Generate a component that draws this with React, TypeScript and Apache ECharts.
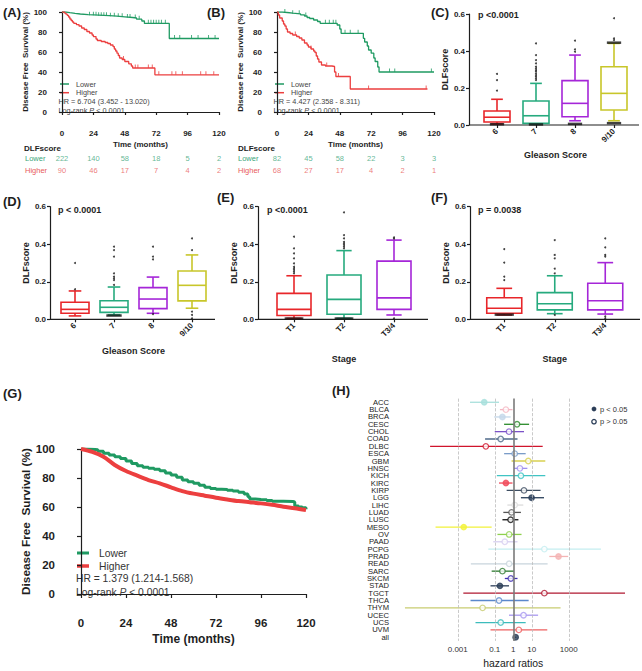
import React, { useEffect, useRef } from "react";
import * as echarts from "echarts";

const FONT = "'Liberation Sans', Arial, Helvetica, sans-serif";
const INK = "#1e1e1e";
const KM_GREEN = "#1f9a62";
const KM_RED = "#ec3f3f";
const RISK_GREEN = "#3aa57a";
const RISK_RED = "#e85a5a";
const BOX_COLORS = ["#e8262a", "#26aa7e", "#a526d8", "#c8c62a"];

// ---------- Kaplan-Meier data ----------
const timeTicks = [0, 24, 48, 72, 96, 120];

const kmALower = [[0,100],[3,99.3],[6,98.6],[10,98],[14,97.3],[20,96.8],[28,96.3],[36,95.8],[42,95.2],[48,94.5],[54,94],[57,92.8],[61,91],[63,88.6],[82,73.5],[120,73.5]];
const kmAHigher = [[0,100],[2,98.9],[3,97.8],[4,96.7],[5,95],[6,93],[7,91.5],[8,90],[9,88.7],[11,87.4],[13,86],[15,84],[17,82.5],[19,80.5],[21,79],[23,77],[24,75.4],[26,73],[27,71.5],[30,70.5],[33,69.5],[35,68.5],[37,67],[39,65.4],[40,63],[41,61],[42,58.8],[43,56.5],[44,54],[46,52.5],[48,50.5],[51,48.2],[53,46],[54,44],[71,37.2],[120,37.2]];
const censorALower = [21,24,26,28,30,32,34,37,40,43,46,50,52,56,59,66,68,70,72,74,76,79,86,90,99,104,112,117];
const censorAHigher = [47,56,58,66,69,74,84,87,92,106,110,116];
const riskALower = [222, 140, 58, 18, 5, 2];
const riskAHigher = [90, 46, 17, 7, 4, 2];

const kmBLower = [[0,100],[4,99.5],[8,98.8],[12,98.2],[18,97.2],[21,96],[23,94.5],[25,93.5],[28,92],[31,90.5],[33,88.7],[46,87],[48,83],[49,78.7],[65,78.7],[66,73.7],[67,70],[69,66],[70,62],[72,58.8],[74,54],[75,50.5],[77,45],[78,40],[120,40]];
const kmBHigher = [[0,100],[1,97],[2,94],[4,91],[5,88],[6,86],[7,83],[8,80],[10,78.5],[12,77],[15,75.5],[17,74],[19,72],[21,69],[23,67],[24,65],[26,63],[28,61],[29,59.5],[30,56],[31,53],[32,50],[34,47],[37,46],[42,45.5],[44,40],[45,35.5],[56,23],[115,23]];
const censorBLower = [6,12,17,22,37,40,43,45,52,56,62,86,90,118];
const censorBHigher = [14,26,38,47,70,114];
const riskBLower = [82, 45, 58, 22, 3, 3];
const riskBHigher = [68, 27, 17, 4, 2, 1];

const kmGLower = [[0,100],[3,99.8],[6,99.5],[9,98.5],[12,97],[15,95.8],[18,94.7],[21,93.4],[24,91.7],[27,90],[30,88.5],[33,87.5],[36,86.7],[39,86],[42,85],[45,83.5],[48,82],[51,80.5],[54,78.6],[57,77.5],[60,76.3],[63,75],[66,73.6],[69,72.7],[72,72.2],[75,72],[78,71.5],[81,71],[84,70.1],[87,69],[89,67],[90,65.5],[93,65.2],[96,65],[99,64.5],[102,64],[108,63.8],[113,63.5],[114,60.7],[116,60],[118,59.5],[120,58.5]];
const kmGHigher = [[0,100],[6,98],[12,94.7],[18,89],[24,84.8],[30,81.6],[36,78.6],[42,76.3],[48,73.6],[54,71],[60,69.2],[66,67.8],[72,66.4],[78,65.2],[84,64.1],[90,63.3],[96,62.5],[102,61.5],[108,60.2],[114,59.2],[120,57.9]];

// ---------- Box plot data: [lower whisker, Q1, median, Q3, upper whisker] ----------
const gleason = ["6", "7", "8", "9/10"];
const stage = ["T1", "T2", "T3/4"];

const boxC = [[0.005,0.016,0.042,0.076,0.139],[0.005,0.009,0.05,0.13,0.225],[0.023,0.045,0.117,0.24,0.378],[0.023,0.081,0.171,0.315,0.441]];
const outC = [[0,0.186],[0,0.243],[0,0.276],[1,0.243],[1,0.252],[1,0.261],[1,0.27],[1,0.279],[1,0.29],[1,0.297],[1,0.306],[1,0.315],[1,0.333],[1,0.351],[1,0.378],[1,0.441],[2,0.396],[2,0.409],[2,0.456],[3,0.459],[3,0.468],[3,0.577]];
const denseC = [[0,0.004],[1,0.003],[2,0.006],[3,0.01],[3,0.445]];

const boxD = [[0.018,0.032,0.053,0.091,0.151],[0.023,0.037,0.064,0.099,0.172],[0.032,0.057,0.108,0.169,0.225],[0.059,0.098,0.181,0.257,0.343]];
const outD = [[0,0.30],[0,0.16],[1,0.183],[1,0.209],[1,0.218],[1,0.227],[1,0.245],[1,0.334],[1,0.369],[1,0.387],[2,0.028],[2,0.319],[2,0.334],[2,0.387],[3,0.369],[3,0.431],[3,0.041],[3,0.023],[3,0.005]];
const denseD = [[1,0.02]];

const boxE = [[0.005,0.02,0.053,0.138,0.232],[0.005,0.027,0.106,0.236,0.366],[0.023,0.053,0.114,0.31,0.422]];
const outE = [[0,0.245],[0,0.254],[0,0.263],[0,0.272],[0,0.28],[0,0.298],[0,0.325],[0,0.351],[0,0.378],[0,0.44],[1,0.378],[1,0.387],[1,0.396],[1,0.405],[1,0.413],[1,0.431],[1,0.449],[1,0.57],[2,0.43],[2,0.437],[2,0.005]];
const denseE = [[0,0.004],[1,0.004]];

const boxF = [[0.023,0.032,0.059,0.115,0.165],[0.03,0.05,0.083,0.142,0.232],[0.028,0.05,0.099,0.192,0.302]];
const outF = [[0,0.209],[0,0.227],[0,0.302],[0,0.374],[1,0.245],[1,0.27],[1,0.325],[1,0.343],[1,0.422],[1,0.023],[2,0.334],[2,0.343],[2,0.383],[2,0.431],[2,0.005],[2,0.015]];
const denseF = [[0,0.025]];

// ---------- Forest plot data ----------
const hNames = ["ACC","BLCA","BRCA","CESC","CHOL","COAD","DLBC","ESCA","GBM","HNSC","KICH","KIRC","KIRP","LGG","LIHC","LUAD","LUSC","MESO","OV","PAAD","PCPG","PRAD","READ","SARC","SKCM","STAD","TGCT","THCA","THYM","UCEC","UCS","UVM","all"];
const hHR = [0.027,0.40,0.26,1.6,0.59,0.21,0.033,1.2,6.5,2.3,2.6,0.40,3.8,9.8,1.2,0.81,0.72,0.0021,0.60,0.35,48,280,0.60,0.26,0.74,0.19,48,0.17,0.022,3.6,0.21,2.0,1.35];
const hLo = [0.0046,0.19,0.093,0.32,0.10,0.030,3.2e-5,0.32,0.81,1.1,0.13,0.17,0.44,2.6,0.48,0.29,0.26,6.3e-5,0.14,0.083,0.045,89,0.0051,0.068,0.35,0.059,0.002,0.0049,1.4e-6,0.59,0.0091,0.059,1.2];
const hHi = [0.17,0.91,0.72,7.2,3.8,1.7,39,4.7,54,5.8,54,0.91,30,46,3.5,2.6,1.9,0.068,2.8,1.7,55000,930,72,1.1,1.7,0.59,1.1e6,6.8,360,22,4.7,69,1.5];
const hSig = [true,false,true,false,false,false,false,false,false,false,false,true,false,true,false,false,false,true,false,false,false,true,false,false,false,true,false,false,false,false,false,false,true];
const hColors = ["#a8e0dc","#f4b6c2","#c5d8ea","#2a8a2a","#7b52c8","#4f6a8a","#d0142c","#7a9cc8","#d8d050","#a090f0","#40c4c4","#f04a5a","#3e4e62","#2a3f5a","#dcdcdc","#555555","#111111","#f2f23a","#8ed04c","#d8d0f0","#c4eef0","#f4b4b4","#c8d4dc","#2e7a30","#4030b0","#2c3e58","#b01830","#5a88cc","#c8cc70","#a898f0","#3cbcbc","#ee6060","#2c3e58"];
const hTicks = [-3, -1, 0, 1, 3];

// ---------- helpers ----------
function survAt(curve: number[][], t: number) {
  let s = curve[0][1];
  for (const [ti, si] of curve) {
    if (ti <= t) s = si;
    else break;
  }
  return s;
}

function txt(x: number, y: number, text: string, fs: number, o: any = {}) {
  return {
    type: "text",
    x,
    y,
    silent: true,
    style: {
      text,
      fontSize: fs,
      fontFamily: FONT,
      fontWeight: o.bold ? "bold" : "normal",
      fill: o.color || INK,
      align: o.align || "left",
      verticalAlign: "middle",
      rich: o.rich,
    },
  };
}

function seg(x1: number, y1: number, x2: number, y2: number, color: string, w: number) {
  return { type: "line", silent: true, shape: { x1, y1, x2, y2 }, style: { stroke: color, lineWidth: w } };
}

const lineAx = { show: true, lineStyle: { color: INK, width: 1.2 } };
const tickAx = (len: number) => ({ show: true, length: len, lineStyle: { color: INK, width: 1.2 } });

function kmAxes(gi: number, c: any) {
  const x = {
    gridIndex: gi, type: "value", min: 0, max: 120, interval: 24, offset: c.xOff,
    axisLine: lineAx, axisTick: tickAx(c.tick), splitLine: { show: false },
    axisLabel: { fontSize: c.fs, fontWeight: "bold", color: INK, fontFamily: FONT, margin: c.xMargin },
    name: "Time (months)", nameLocation: "middle", nameGap: c.xNameGap,
    nameTextStyle: { fontSize: c.nameFs, fontWeight: "bold", color: INK, fontFamily: FONT },
  };
  const y = {
    gridIndex: gi, type: "value", min: 0, max: 100, interval: 20, offset: c.yOff,
    axisLine: lineAx, axisTick: tickAx(c.tick), splitLine: { show: false },
    axisLabel: { fontSize: c.fs, fontWeight: "bold", color: INK, fontFamily: FONT, margin: c.yMargin },
    name: "Disease Free  Survival (%)", nameLocation: "middle", nameGap: c.yNameGap, nameRotate: 90,
    nameTextStyle: { fontSize: c.yNameFs, fontWeight: "bold", color: INK, fontFamily: FONT },
  };
  return { x, y };
}

function riskAxes(gi: number, margin: number) {
  return {
    x: { gridIndex: gi, type: "value", min: 0, max: 120, show: false },
    y: {
      gridIndex: gi, type: "category", data: ["Lower", "Higher"], inverse: true,
      axisLine: { show: false }, axisTick: { show: false }, splitLine: { show: false },
      axisLabel: {
        align: "left", margin, interval: 0,
        formatter: (v: string) => (v === "Lower" ? `{g|${v}}` : `{r|${v}}`),
        rich: {
          g: { color: RISK_GREEN, fontSize: 7.5, fontFamily: FONT },
          r: { color: RISK_RED, fontSize: 7.5, fontFamily: FONT },
        },
      },
    },
  };
}

function riskSeries(ai: number, row: number, vals: number[], color: string) {
  return {
    type: "scatter", xAxisIndex: ai, yAxisIndex: ai, symbolSize: 1,
    itemStyle: { color: "rgba(0,0,0,0)" },
    label: { show: true, position: "inside", formatter: (p: any) => String(p.value[2]), color, fontSize: 7.5, fontFamily: FONT },
    data: timeTicks.map((t, i) => [t, row, vals[i]]),
  };
}

function kmSeries(ai: number, curve: number[][], color: string, width: number, step: boolean) {
  return {
    type: "line", xAxisIndex: ai, yAxisIndex: ai, data: curve, showSymbol: false,
    step: step ? "end" : false, smooth: step ? false : 0.3,
    lineStyle: { color, width }, itemStyle: { color }, silent: true,
  };
}

function censorSeries(ai: number, curve: number[][], times: number[], color: string) {
  return {
    type: "scatter", xAxisIndex: ai, yAxisIndex: ai, symbol: "rect", symbolSize: [1, 3.5], symbolOffset: [0, -1.8],
    itemStyle: { color }, silent: true,
    data: times.map((t) => [t, survAt(curve, t)]),
  };
}

function boxAxes(gi: number, cats: string[], c: any) {
  const x = {
    gridIndex: gi, type: "category", data: cats, boundaryGap: true,
    axisLine: { show: false }, axisTick: { show: true, alignWithLabel: true, length: 3, lineStyle: { color: INK, width: 1.2 } },
    axisLabel: { rotate: 45, fontSize: 8, fontWeight: "bold", color: INK, fontFamily: FONT, margin: 5, interval: 0 },
    name: c.xName, nameLocation: "middle", nameGap: c.xNameGap,
    nameTextStyle: { fontSize: 9, fontWeight: "bold", color: INK, fontFamily: FONT },
  };
  const y = {
    gridIndex: gi, type: "value", min: 0, max: 0.6, interval: 0.2, offset: c.yOff,
    axisLine: lineAx, axisTick: tickAx(3), splitLine: { show: false },
    axisLabel: { fontSize: 8, fontWeight: "bold", color: INK, fontFamily: FONT, margin: 4, formatter: (v: number) => v.toFixed(1) },
    name: "DLFscore", nameLocation: "middle", nameGap: c.yNameGap, nameRotate: 90,
    nameTextStyle: { fontSize: 9, fontWeight: "bold", color: INK, fontFamily: FONT },
  };
  return { x, y };
}

function boxSeries(ai: number, boxes: number[][], outs: number[][], dense: number[][], boxW: number) {
  const capW = boxW * 0.45;
  return [
    {
      type: "custom", xAxisIndex: ai, yAxisIndex: ai, silent: true,
      encode: { x: 0, y: [1, 2, 3, 4, 5] },
      data: boxes.map((b, i) => [i, ...b]),
      renderItem: (params: any, api: any) => {
        const i = api.value(0);
        const lo = api.coord([i, api.value(1)]);
        const q1 = api.coord([i, api.value(2)]);
        const med = api.coord([i, api.value(3)]);
        const q3 = api.coord([i, api.value(4)]);
        const hi = api.coord([i, api.value(5)]);
        const x = lo[0];
        const hw = boxW / 2;
        const cw = capW / 2;
        const st = { stroke: BOX_COLORS[params.dataIndex], lineWidth: 1.6, fill: "none" };
        return {
          type: "group",
          children: [
            { type: "rect", shape: { x: x - hw, y: q3[1], width: boxW, height: q1[1] - q3[1] }, style: st },
            { type: "line", shape: { x1: x - hw, y1: med[1], x2: x + hw, y2: med[1] }, style: st },
            { type: "line", shape: { x1: x, y1: q3[1], x2: x, y2: hi[1] }, style: st },
            { type: "line", shape: { x1: x, y1: q1[1], x2: x, y2: lo[1] }, style: st },
            { type: "line", shape: { x1: x - cw, y1: hi[1], x2: x + cw, y2: hi[1] }, style: st },
            { type: "line", shape: { x1: x - cw, y1: lo[1], x2: x + cw, y2: lo[1] }, style: st },
          ],
        };
      },
    },
    {
      type: "scatter", xAxisIndex: ai, yAxisIndex: ai, symbolSize: 2, silent: true,
      itemStyle: { color: "#111" }, data: outs,
    },
    {
      type: "scatter", xAxisIndex: ai, yAxisIndex: ai, symbol: "rect", symbolSize: [boxW * 0.55, 2.5], silent: true,
      itemStyle: { color: "#111" }, data: dense,
    },
  ];
}

function buildOption() {
  const grids = [
    { left: 62, top: 12, width: 157, height: 100 }, // 0 A km
    { left: 62, top: 152, width: 157, height: 24 }, // 1 A risk
    { left: 277, top: 12, width: 157, height: 100 }, // 2 B km
    { left: 277, top: 152, width: 157, height: 24 }, // 3 B risk
    { left: 477.5, top: 14, width: 156, height: 111 }, // 4 C
    { left: 55.5, top: 206.7, width: 156, height: 112.6 }, // 5 D
    { left: 269, top: 206.7, width: 150, height: 112.6 }, // 6 E
    { left: 479, top: 206.7, width: 151.5, height: 112.6 }, // 7 F
    { left: 81, top: 449, width: 225, height: 145 }, // 8 G
    { left: 393, top: 398.6, width: 240.5, height: 242.3 }, // 9 H
  ];

  const smallKm = { xOff: 12, yOff: 10, tick: 3, fs: 8, xMargin: 5, yMargin: 5, xNameGap: 16, yNameGap: 19, nameFs: 8, yNameFs: 8 };
  const aAx = kmAxes(0, smallKm);
  const aRisk = riskAxes(1, 37);
  const bAx = kmAxes(2, smallKm);
  const bRisk = riskAxes(3, 39);
  const cAx = boxAxes(4, gleason, { xName: "Gleason Score", xNameGap: 25, yOff: 8.5, yNameGap: 17 });
  const dAx = boxAxes(5, gleason, { xName: "Gleason Score", xNameGap: 27, yOff: 5.5, yNameGap: 18 });
  const eAx = boxAxes(6, stage, { xName: "Stage", xNameGap: 35, yOff: 11, yNameGap: 18 });
  const fAx = boxAxes(7, stage, { xName: "Stage", xNameGap: 35, yOff: 9, yNameGap: 18 });
  const gAx = kmAxes(8, { xOff: 16, yOff: 21, tick: 4, fs: 11.5, xMargin: 7, yMargin: 5, xNameGap: 23, yNameGap: 24, nameFs: 12, yNameFs: 11.8 });

  const hX = {
    gridIndex: 9, type: "value", min: -6.5, max: 6.5,
    axisLine: { show: false }, axisTick: { show: false }, splitLine: { show: false },
    axisLabel: {
      customValues: hTicks, fontSize: 8, color: "#333", fontFamily: FONT, margin: 5,
      formatter: (v: number) => (v < 0 ? Math.pow(10, v).toFixed(-v) : String(Math.round(Math.pow(10, v)))),
    },
    name: "hazard ratios", nameLocation: "middle", nameGap: 18,
    nameTextStyle: { fontSize: 10.4, color: "#222", fontFamily: FONT },
  };
  const hY = {
    gridIndex: 9, type: "category", data: hNames, inverse: true,
    axisLine: { show: false }, axisTick: { show: false }, splitLine: { show: false },
    axisLabel: { fontSize: 7.6, lineHeight: 7.2, color: "#222", fontFamily: FONT, margin: 4, interval: 0 },
  };

  const xAxis = [aAx.x, aRisk.x, bAx.x, bRisk.x, cAx.x, dAx.x, eAx.x, fAx.x, gAx.x, hX];
  const yAxis = [aAx.y, aRisk.y, bAx.y, bRisk.y, cAx.y, dAx.y, eAx.y, fAx.y, gAx.y, hY];

  const dashed = { type: "dashed", color: "#bdbdbd", width: 0.8 };

  const series: any[] = [
    kmSeries(0, kmALower, KM_GREEN, 1.3, true),
    kmSeries(0, kmAHigher, KM_RED, 1.3, true),
    censorSeries(0, kmALower, censorALower, KM_GREEN),
    censorSeries(0, kmAHigher, censorAHigher, KM_RED),
    riskSeries(1, 0, riskALower, RISK_GREEN),
    riskSeries(1, 1, riskAHigher, RISK_RED),
    kmSeries(2, kmBLower, KM_GREEN, 1.3, true),
    kmSeries(2, kmBHigher, KM_RED, 1.3, true),
    censorSeries(2, kmBLower, censorBLower, KM_GREEN),
    censorSeries(2, kmBHigher, censorBHigher, KM_RED),
    riskSeries(3, 0, riskBLower, RISK_GREEN),
    riskSeries(3, 1, riskBHigher, RISK_RED),
    ...boxSeries(4, boxC, outC, denseC, 26),
    ...boxSeries(5, boxD, outD, denseD, 28),
    ...boxSeries(6, boxE, outE, denseE, 34),
    ...boxSeries(7, boxF, outF, denseF, 35),
    kmSeries(8, kmGLower, KM_GREEN, 3, true),
    kmSeries(8, kmGHigher, KM_RED, 4, false),
    {
      type: "scatter", xAxisIndex: 9, yAxisIndex: 9, data: [], silent: true, z: 1,
      markLine: {
        symbol: "none", silent: true, label: { show: false },
        data: [
          { xAxis: -3, lineStyle: dashed },
          { xAxis: -1, lineStyle: dashed },
          { xAxis: 1, lineStyle: dashed },
          { xAxis: 3, lineStyle: dashed },
          { xAxis: 0, lineStyle: { type: "solid", color: "#7a7a7a", width: 1.6 } },
        ],
      },
    },
    {
      type: "custom", xAxisIndex: 9, yAxisIndex: 9, silent: true, z: 3,
      encode: { x: [0, 1], y: 2 },
      data: hNames.map((_, i) => [Math.log10(hLo[i]), Math.log10(hHi[i]), i]),
      renderItem: (params: any, api: any) => {
        const a = api.coord([api.value(0), api.value(2)]);
        const b = api.coord([api.value(1), api.value(2)]);
        return {
          type: "line",
          shape: { x1: a[0], y1: a[1], x2: b[0], y2: b[1] },
          style: { stroke: hColors[params.dataIndex], lineWidth: 1.3 },
        };
      },
    },
    {
      type: "scatter", xAxisIndex: 9, yAxisIndex: 9, symbolSize: 5.5, silent: true, z: 4,
      data: hNames.map((_, i) => ({
        value: [Math.log10(hHR[i]), i],
        itemStyle: { color: hSig[i] ? hColors[i] : "#ffffff", borderColor: hColors[i], borderWidth: 1.3 },
      })),
    },
  ];

  const lr = (fs: number) => ({ i: { fontStyle: "italic", fontSize: fs, fontFamily: FONT, fill: "#444" } });

  const graphic: any[] = [
    // panel labels
    txt(3, 12, "(A)", 13, { bold: true }),
    txt(207, 12, "(B)", 13, { bold: true }),
    txt(431, 12, "(C)", 13, { bold: true }),
    txt(3, 201, "(D)", 13, { bold: true }),
    txt(217, 197, "(E)", 13, { bold: true }),
    txt(431, 197, "(F)", 13, { bold: true }),
    txt(3, 393, "(G)", 13, { bold: true }),
    txt(332, 390, "(H)", 13, { bold: true }),
    // A legend/annotation
    seg(60, 84, 69, 84, KM_GREEN, 1.5),
    txt(76, 84, "Lower", 7.3, { color: "#444" }),
    seg(60, 92.7, 69, 92.7, KM_RED, 1.5),
    txt(76, 92.7, "Higher", 7.3, { color: "#444" }),
    txt(58.5, 101, "HR = 6.704 (3.452 - 13.020)", 7.3, { color: "#444" }),
    txt(58.5, 110.5, "Log-rank {i|P} < 0.0001", 7.3, { color: "#444", rich: lr(7.3) }),
    txt(24, 148, "DLFscore", 8, { bold: true }),
    // B legend/annotation
    seg(275, 84, 284, 84, KM_GREEN, 1.5),
    txt(291, 84, "Lower", 7.3, { color: "#444" }),
    seg(275, 92.7, 284, 92.7, KM_RED, 1.5),
    txt(291, 92.7, "Higher", 7.3, { color: "#444" }),
    txt(273.5, 101, "HR = 4.427 (2.358 - 8.311)", 7.3, { color: "#444" }),
    txt(273.5, 110.5, "Log-rank {i|P} < 0.0001", 7.3, { color: "#444", rich: lr(7.3) }),
    txt(238, 148, "DLFscore", 8, { bold: true }),
    // box panel p-values and full-length x axis lines
    txt(478, 15, "p <0.0001", 9, { bold: true }),
    txt(58, 210, "p < 0.0001", 9, { bold: true }),
    txt(267, 210, "p <0.0001", 9, { bold: true }),
    txt(478, 210, "p = 0.0038", 9, { bold: true }),
    seg(469, 125, 639, 125, INK, 1.2),
    seg(50, 319.3, 215, 319.3, INK, 1.2),
    seg(258, 319.3, 428, 319.3, INK, 1.2),
    seg(470, 319.3, 640, 319.3, INK, 1.2),
    // G legend/annotation
    seg(77, 553, 89, 553, KM_GREEN, 3),
    txt(99, 553, "Lower", 10.3, { color: "#333" }),
    seg(77, 566, 89, 566, KM_RED, 3.5),
    txt(99, 566, "Higher", 10.3, { color: "#333" }),
    txt(76, 578.5, "HR = 1.379 (1.214-1.568)", 10.3, { color: "#333" }),
    txt(76, 592, "Log-rank {i|P} < 0.0001", 10.3, { color: "#333", rich: lr(10.3) }),
    // H legend
    { type: "circle", silent: true, shape: { cx: 594, cy: 409, r: 2.4 }, style: { fill: "#2c3e58" } },
    txt(600, 409, "p < 0.05", 7.5, { color: "#333" }),
    { type: "circle", silent: true, shape: { cx: 594, cy: 421.7, r: 2.2 }, style: { fill: "#fff", stroke: "#2c3e58", lineWidth: 1.3 } },
    txt(600, 421.7, "p > 0.05", 7.5, { color: "#333" }),
  ];

  return {
    animation: false,
    backgroundColor: "#ffffff",
    textStyle: { fontFamily: FONT },
    grid: grids,
    xAxis,
    yAxis,
    series,
    graphic,
  };
}

export default function App() {
  const ref = useRef<HTMLDivElement>(null);
  useEffect(() => {
    const chart = echarts.init(ref.current as HTMLDivElement, null, { renderer: "svg" });
    chart.setOption(buildOption() as any);
    return () => chart.dispose();
  }, []);
  return (
    <div
      ref={ref}
      style={{ position: "fixed", left: 0, top: 0, width: 642, height: 671, background: "#fff" }}
    />
  );
}
